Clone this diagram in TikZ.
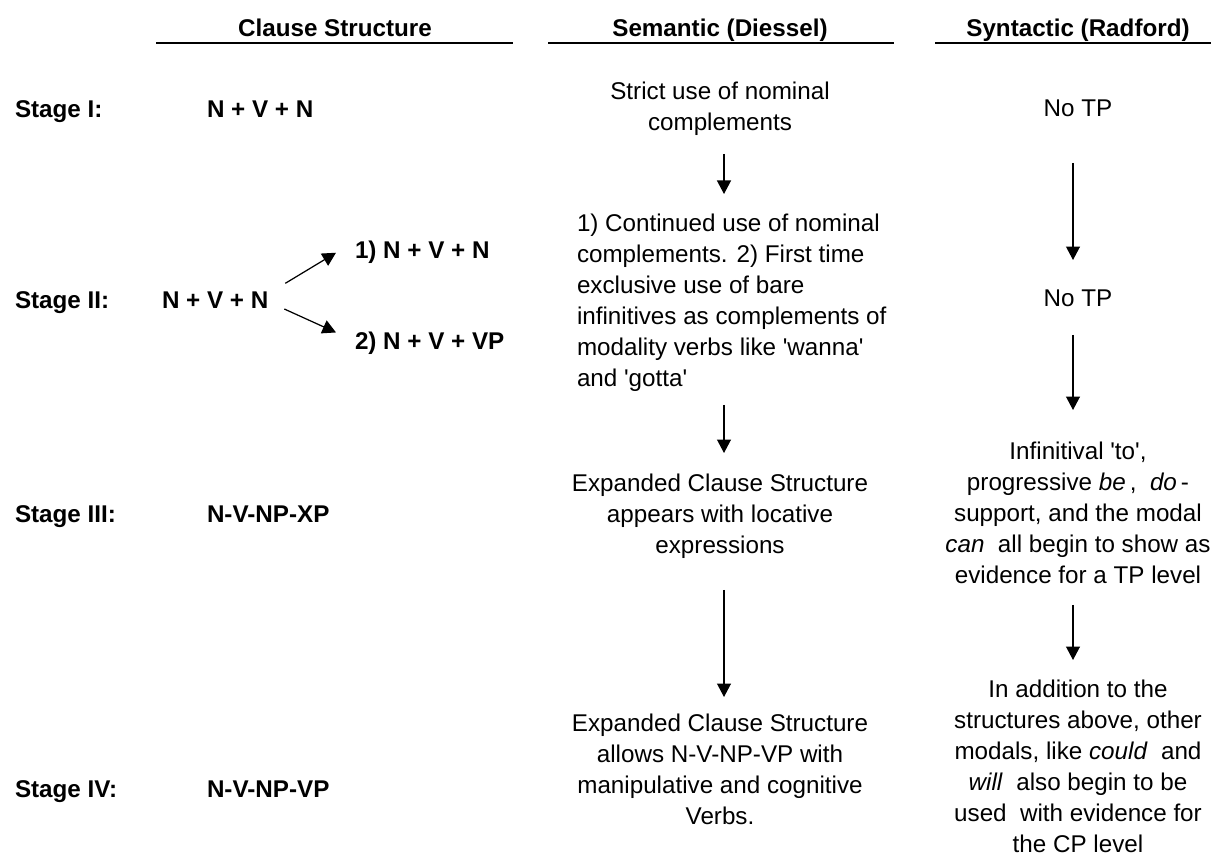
\documentclass[tikz,border=0pt]{standalone}
\usepackage{fontspec}
\setmainfont{Liberation Sans}
\usetikzlibrary{arrows.meta}
\newcommand{\dgfont}{\fontsize{13.78}{17.64}\selectfont}
\newcommand{\sq}{\textquotesingle}

\begin{document}
\begin{tikzpicture}[x=0.02cm, y=-0.02cm,
    every node/.style={inner sep=0pt, outer sep=0pt, font=\dgfont},
    head/.style={font=\dgfont\bfseries, anchor=base},
    stage/.style={font=\dgfont\bfseries, anchor=base west},
    clause/.style={font=\dgfont\bfseries, anchor=base west},
    block/.style={align=center, anchor=north},
    arr/.style={line width=0.7pt, -{Triangle[length=0.27cm, width=0.28cm]}},
    rule/.style={line width=1.4pt}]
  \useasboundingbox (0,0) rectangle (1211,857);

  % column heads
  \node (hclause) [head] at (335,37) {Clause Structure};
  \node (hsem) [head] at (720,37) {Semantic (Diessel)};
  \node (hsyn) [head] at (1078,37) {Syntactic (Radford)};
  \draw[rule] (156,43) -- (513,43);
  \draw[rule] (548,43) -- (894,43);
  \draw[rule] (935,43) -- (1211,43);

  % stages
  \node (st1) [stage] at (15,118) {Stage I:};
  \node (st2) [stage] at (15,309) {Stage II:};
  \node (st3) [stage] at (15,523) {Stage III:};
  \node (st4) [stage] at (15,798) {Stage IV:};

  % clause structure
  \node (c1) [clause] at (207,118) {N + V + N};
  \node (c2) [clause] at (162,309) {N + V + N};
  \node (c2a) [clause] at (355,259) {1) N + V + N};
  \node (c2b) [clause] at (355,350) {2) N + V + VP};
  \node (c3) [clause] at (207,523) {N-V-NP-XP};
  \node (c4) [clause] at (207,798) {N-V-NP-VP};
  \draw[arr] ([shift={(17,-9)}]c2.north east) -- ([shift={(-19,0)}]c2a.west);
  \draw[arr] ([shift={(16,0)}]c2.south east) -- ([shift={(-19,0)}]c2b.north west);

  % semantic (Diessel)
  \node (s1) [block] at (720,78.3) {\strut Strict use of nominal\\ \strut complements};
  \node (s2) [align=left, anchor=north west] at (577,210.3) {\strut 1) Continued use of nominal\\
    complements. 2) First time\\ exclusive use of bare\\ infinitives as complements of\\
    modality verbs like \sq wanna\sq\\ \strut and \sq gotta\sq};
  \node (s3) [block] at (720,470.3) {\strut Expanded Clause Structure\\ appears with locative\\ \strut expressions};
  \node (s4) [block] at (720,710.3) {\strut Expanded Clause Structure\\ allows N-V-NP-VP with\\
    manipulative and cognitive\\ \strut Verbs.};

  % syntactic (Radford)
  \node (t1) [block] at (1078,95.3) {\strut No TP};
  \node (t2) [block] at (1078,285.3) {\strut No TP};
  \node (t3) [block] at (1078,438.3) {\strut Infinitival \sq to\sq,\\
    progressive \textit{be}\,,\ \ \textit{do}\,-\\ support, and the modal\\
    \textit{can}\ \ all begin to show as\\ \strut evidence for a TP level};
  \node (t4) [block] at (1078,676.3) {\strut In addition to the\\ structures above, other\\
    modals, like \textit{could}\ \ and\\ \textit{will}\ \ also begin to be\\
    used \ with evidence for\\ \strut the CP level};

  % arrows down the columns
  \coordinate (semx) at (724,0);
  \coordinate (synx) at (1073,0);
  \draw[arr, shorten <=0.274cm, shorten >=0.326cm] (s1.south -| semx) -- (s2.north -| semx);
  \draw[arr, shorten <=0.174cm, shorten >=0.346cm] (s2.south -| semx) -- (s3.north -| semx);
  \draw[arr, shorten <=0.534cm, shorten >=0.266cm] (s3.south -| semx) -- (s4.north -| semx);
  \draw[arr, shorten <=0.734cm, shorten >=0.506cm] (t1.south -| synx) -- (t2.north -| synx);
  \draw[arr, shorten <=0.374cm, shorten >=0.566cm] (t2.south -| synx) -- (t3.north -| synx);
  \draw[arr, shorten <=0.234cm, shorten >=0.326cm] (t3.south -| synx) -- (t4.north -| synx);
\end{tikzpicture}
\end{document}
